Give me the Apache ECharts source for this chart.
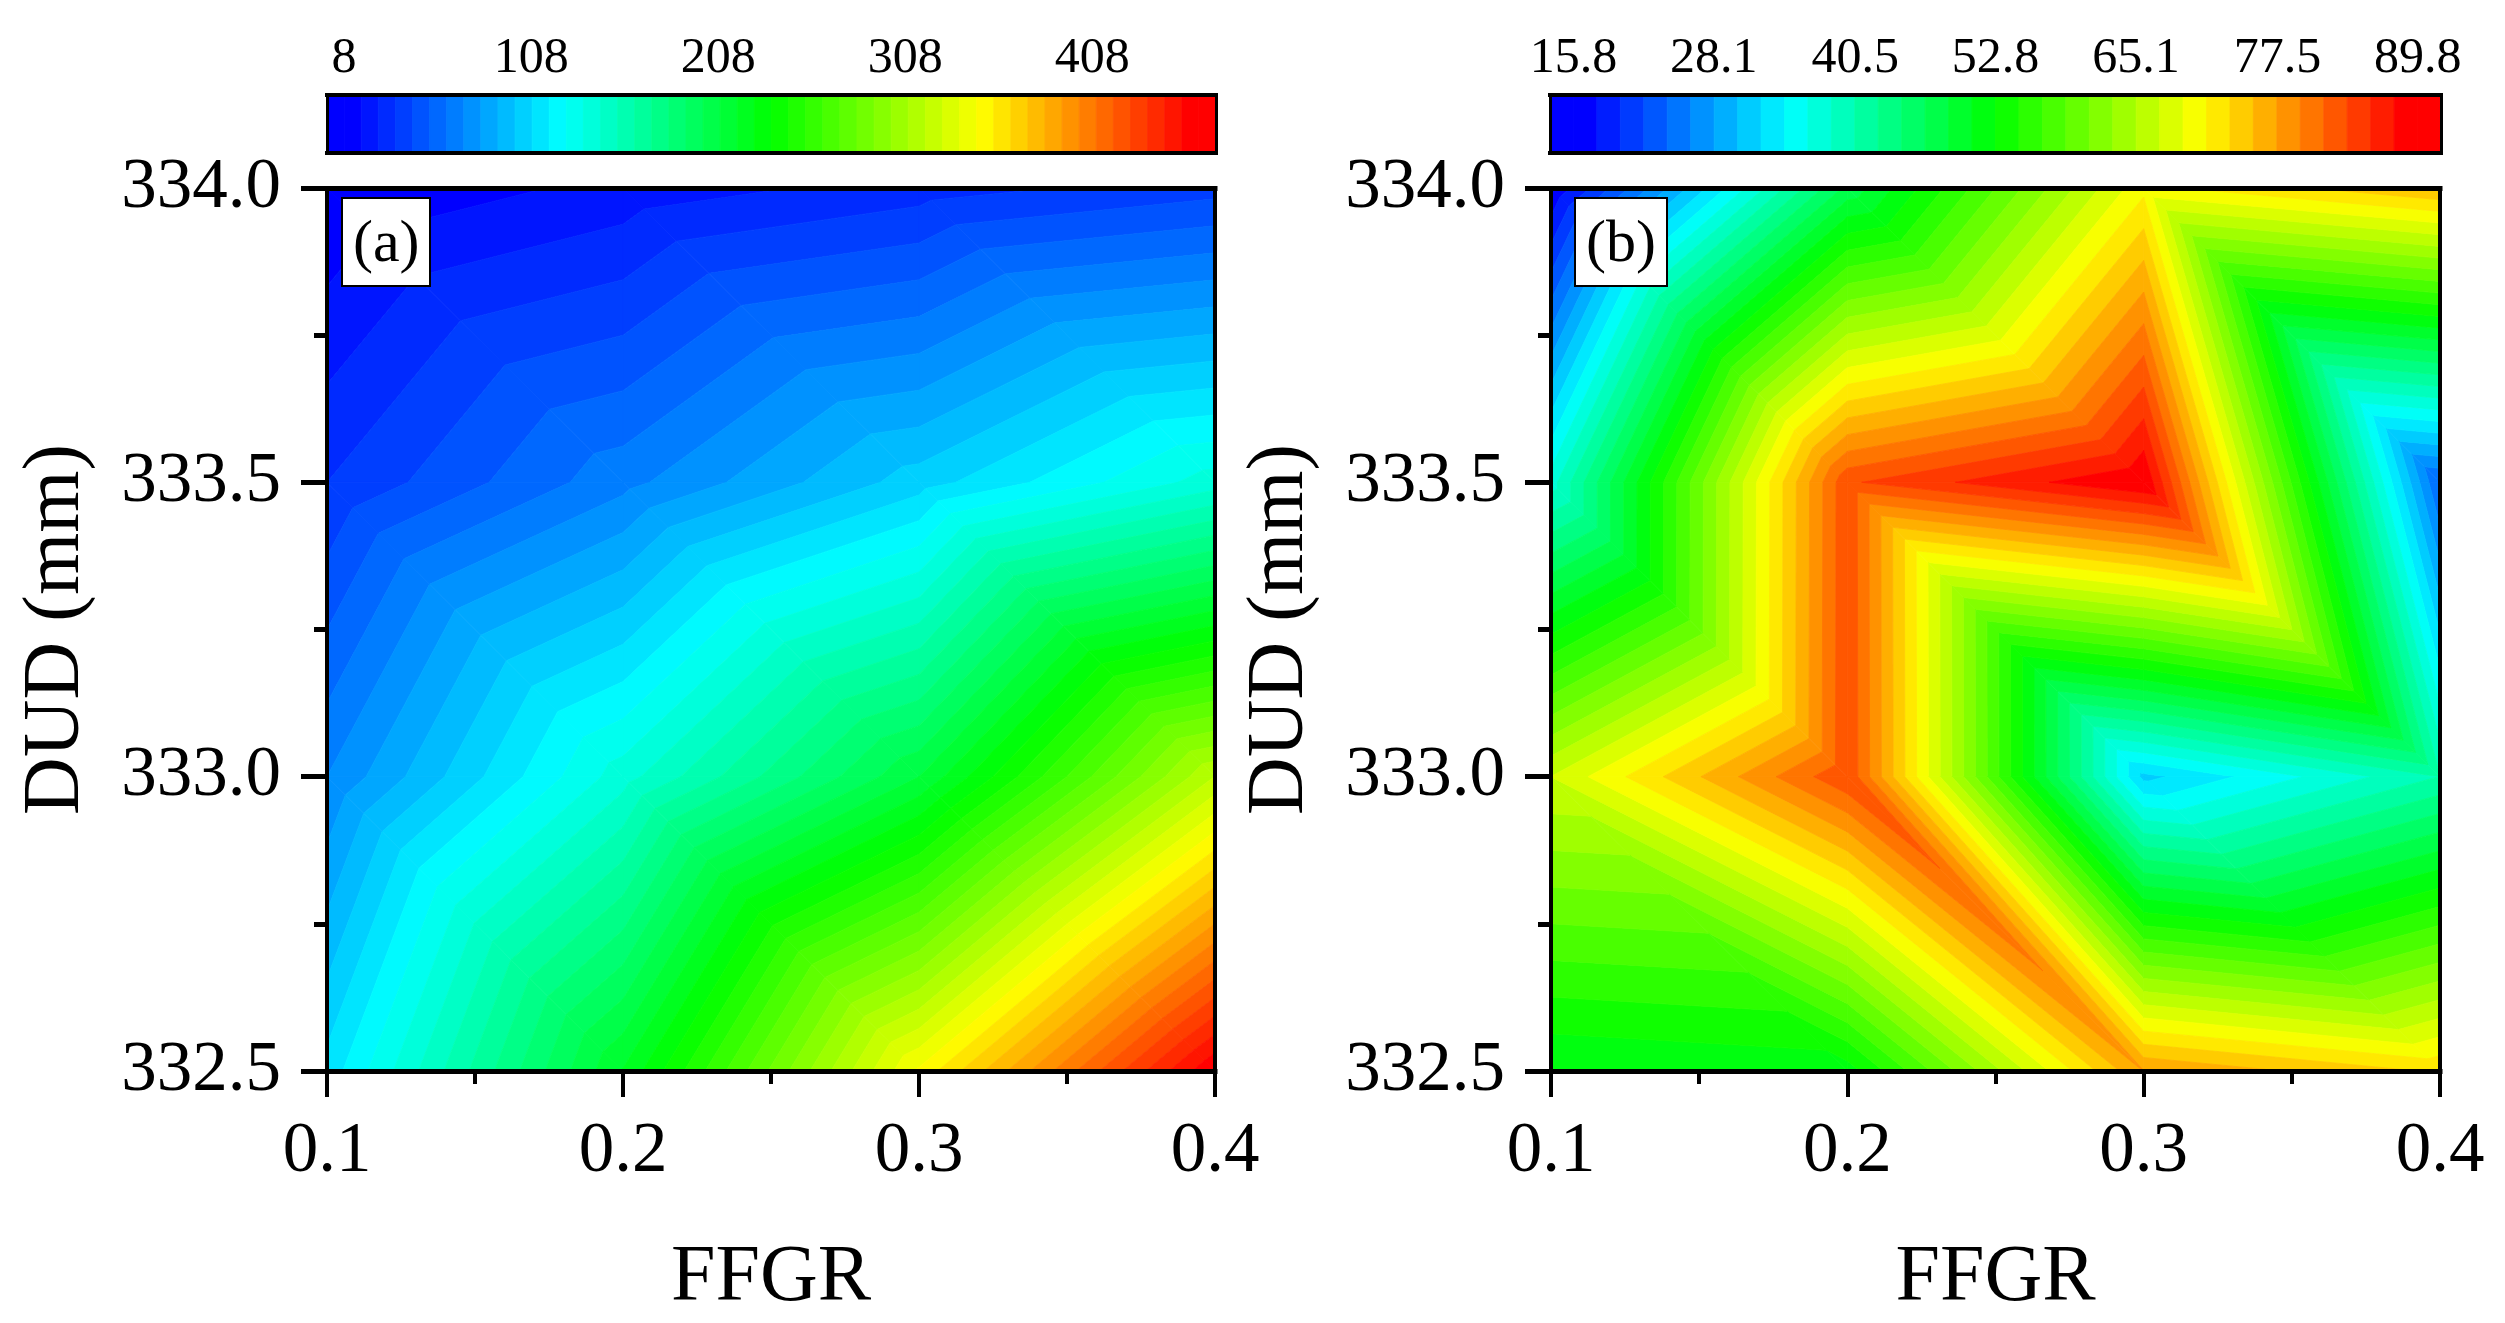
<!DOCTYPE html>
<html>
<head>
<meta charset="utf-8">
<style>html,body{margin:0;padding:0;background:#fff}#c{width:2505px;height:1323px}</style>
<script src="https://cdn.jsdelivr.net/npm/echarts@6/dist/echarts.min.js"></script>
</head>
<body>
<div id="c"></div>
<script>
// ---- data ----
const ffgr = [0.1, 0.2, 0.3, 0.4];
const dud = [334.0, 333.5, 333.0, 332.5];
const valuesA = [
  [8, 20.3, 30.9, 40.9],
  [35.4, 68.8, 104, 140.5],
  [72, 141, 209, 319],
  [112, 219, 348, 465]
];
const valuesB = [
  [15.8, 47.2, 70.7, 75.4],
  [37.4, 83.3, 89.8, 23.6],
  [67.2, 83.4, 31.6, 40.5],
  [50.7, 51.7, 77.5, 73.0]
];
const barTicksA = [8, 108, 208, 308, 408];
const barTicksB = [15.8, 28.1, 40.5, 52.8, 65.1, 77.5, 89.8];
const stepA = 9.14, cellsA = 52;
const stepB = 2.055, cellsB = 38;
const yTicks = [332.5, 333.0, 333.5, 334.0];

// ---- helpers ----
const FONT = '"Liberation Serif","Times New Roman",serif';
const stops = [[0,0,255],[0,255,255],[0,255,0],[255,255,0],[255,0,0]];
function rainbow(t){
  t = Math.max(0, Math.min(1, t)) * 4;
  const i = Math.min(3, Math.floor(t)), f = t - i;
  const c = stops[i].map((v, j) => Math.round(v + (stops[i+1][j] - v) * f));
  return 'rgb(' + c.join(',') + ')';
}
function cellColor(i, n){ return rainbow((i - 1) / (n - 3)); }
// clip convex polygon [x,y,v] to lo<=v<=hi
function clip(poly, level, keepAbove){
  const out = [];
  for (let i = 0; i < poly.length; i++){
    const a = poly[i], b = poly[(i + 1) % poly.length];
    const ia = keepAbove ? a[2] >= level : a[2] <= level;
    const ib = keepAbove ? b[2] >= level : b[2] <= level;
    if (ia) out.push(a);
    if (ia !== ib){
      const f = (level - a[2]) / (b[2] - a[2]);
      out.push([a[0] + (b[0]-a[0])*f, a[1] + (b[1]-a[1])*f, level]);
    }
  }
  return out;
}
function bandPolys(vals, low, step, n){
  const items = [];
  for (let r = 0; r < dud.length - 1; r++){
    for (let c = 0; c < ffgr.length - 1; c++){
      const P = (rr, cc) => [ffgr[cc], dud[rr], vals[rr][cc]];
      const tl = P(r,c), tr = P(r,c+1), bl = P(r+1,c), br = P(r+1,c+1);
      [[tl,tr,br],[tl,br,bl]].forEach(tri => {
        for (let i = 0; i < n; i++){
          let p = clip(tri, low + step*i, true);
          if (p.length > 2) p = clip(p, low + step*(i+1), false);
          if (p.length > 2) items.push({value:[p[0][0], p[0][1]], pts:p.map(q => [q[0], q[1]]), color:cellColor(i, n)});
        }
      });
    }
  }
  return items;
}
function barPolys(low, step, n){
  const items = [];
  for (let i = 0; i < n; i++){
    const a = low + step*i, b = a + step;
    items.push({value:[a,0], pts:[[a,0],[b,0],[b,1],[a,1]], color:cellColor(i, n)});
  }
  return items;
}
function polySeries(items, xi, yi, z){
  return {
    type:'custom', xAxisIndex:xi, yAxisIndex:yi, z:z, silent:true, animation:false, clip:true,
    data: items.map(d => d.value),
    renderItem:(params, api) => {
      const d = items[params.dataIndex];
      return {type:'polygon', shape:{points:d.pts.map(p => api.coord(p))},
        style:{fill:d.color, stroke:d.color, lineWidth:0.8}};
    }
  };
}

// ---- layout ----
const plots = [
  {left:327, width:888, barLeft:327, barWidth:889, vals:valuesA, step:stepA, n:cellsA, ticks:barTicksA, box:'(a)', boxLeft:342},
  {left:1551, width:889, barLeft:1550, barWidth:891, vals:valuesB, step:stepB, n:cellsB, ticks:barTicksB, box:'(b)', boxLeft:1575}
];
const grids = [], xAxes = [], yAxes = [], series = [], titles = [];
const lineStyle = w => ({color:'#000', width:w, cap:'square'});
plots.forEach((p, i) => {
  const g = grids.length;
  grids.push({left:p.left, top:188, width:p.width, height:883, outerBoundsMode:'none', containLabel:false});
  grids.push({left:p.barLeft, top:95, width:p.barWidth, height:58, outerBoundsMode:'none', containLabel:false});
  const low = p.ticks[0] - p.step, high = low + p.step * p.n;

  // main axes
  const xMain = xAxes.length;
  xAxes.push({type:'value', gridIndex:g, min:0.1, max:0.4, interval:0.1, position:'bottom', z:10,
    name:'FFGR', nameLocation:'middle', nameGap:168,
    nameTextStyle:{fontFamily:FONT, fontSize:80, color:'#000'},
    axisLine:{show:true, onZero:false, lineStyle:lineStyle(5)},
    axisTick:{show:true, length:26, lineStyle:{color:'#000', width:4}},
    minorTick:{show:true, splitNumber:2, length:13, lineStyle:{color:'#000', width:4}},
    splitLine:{show:false}, minorSplitLine:{show:false},
    axisLabel:{fontFamily:FONT, fontSize:71, color:'#000', margin:46, formatter:v => v.toFixed(1), showMinLabel:true, showMaxLabel:true}});
  xAxes.push({type:'value', gridIndex:g, min:0.1, max:0.4, position:'top', z:10,
    axisLine:{show:true, onZero:false, lineStyle:lineStyle(5)}, axisTick:{show:false}, axisLabel:{show:false}, splitLine:{show:false}});
  const yMain = yAxes.length;
  yAxes.push({type:'value', gridIndex:g, min:yTicks[0], max:yTicks[3], interval:0.5, position:'left', z:10,
    name:'DUD (mm)', nameLocation:'middle', nameGap:230,
    nameTextStyle:{fontFamily:FONT, fontSize:80, color:'#000'},
    axisLine:{show:true, onZero:false, lineStyle:lineStyle(4)},
    axisTick:{show:true, length:26, lineStyle:{color:'#000', width:5}},
    minorTick:{show:true, splitNumber:2, length:13, lineStyle:{color:'#000', width:5}},
    splitLine:{show:false}, minorSplitLine:{show:false},
    axisLabel:{fontFamily:FONT, fontSize:71, color:'#000', margin:46, formatter:v => v.toFixed(1), showMinLabel:true, showMaxLabel:true}});
  yAxes.push({type:'value', gridIndex:g, min:yTicks[0], max:yTicks[3], position:'right', z:10,
    axisLine:{show:true, onZero:false, lineStyle:lineStyle(4)}, axisTick:{show:false}, axisLabel:{show:false}, splitLine:{show:false}});
  series.push(polySeries(bandPolys(p.vals, low, p.step, p.n), xMain, yMain, 2));

  // colour bar axes
  const xBar = xAxes.length;
  xAxes.push({type:'value', gridIndex:g+1, min:low, max:high, position:'top', z:10,
    axisLine:{show:true, onZero:false, lineStyle:lineStyle(4)}, axisTick:{show:false}, splitLine:{show:false},
    axisLabel:{show:true, customValues:p.ticks, fontFamily:FONT, fontSize:50, color:'#000', margin:11, formatter:v => String(v), hideOverlap:false}});
  xAxes.push({type:'value', gridIndex:g+1, min:low, max:high, position:'bottom', z:10,
    axisLine:{show:true, onZero:false, lineStyle:lineStyle(4)}, axisTick:{show:false}, axisLabel:{show:false}, splitLine:{show:false}});
  const yBar = yAxes.length;
  yAxes.push({type:'value', gridIndex:g+1, min:0, max:1, position:'left', z:10,
    axisLine:{show:true, onZero:false, lineStyle:lineStyle(3)}, axisTick:{show:false}, axisLabel:{show:false}, splitLine:{show:false}});
  yAxes.push({type:'value', gridIndex:g+1, min:0, max:1, position:'right', z:10,
    axisLine:{show:true, onZero:false, lineStyle:lineStyle(3)}, axisTick:{show:false}, axisLabel:{show:false}, splitLine:{show:false}});
  series.push(polySeries(barPolys(low, p.step, p.n), xBar, yBar, 2));

  titles.push({text:p.box, left:p.boxLeft, top:198, z:20, padding:[15,11,9,11],
    backgroundColor:'#fff', borderColor:'#000', borderWidth:2,
    textStyle:{fontFamily:FONT, fontSize:60, fontWeight:'normal', color:'#000', lineHeight:64}});
});

const chart = echarts.init(document.getElementById('c'), null, {renderer:'canvas'});
chart.setOption({animation:false, backgroundColor:'#fff', title:titles, grid:grids, xAxis:xAxes, yAxis:yAxes, series:series});
</script>
</body>
</html>
